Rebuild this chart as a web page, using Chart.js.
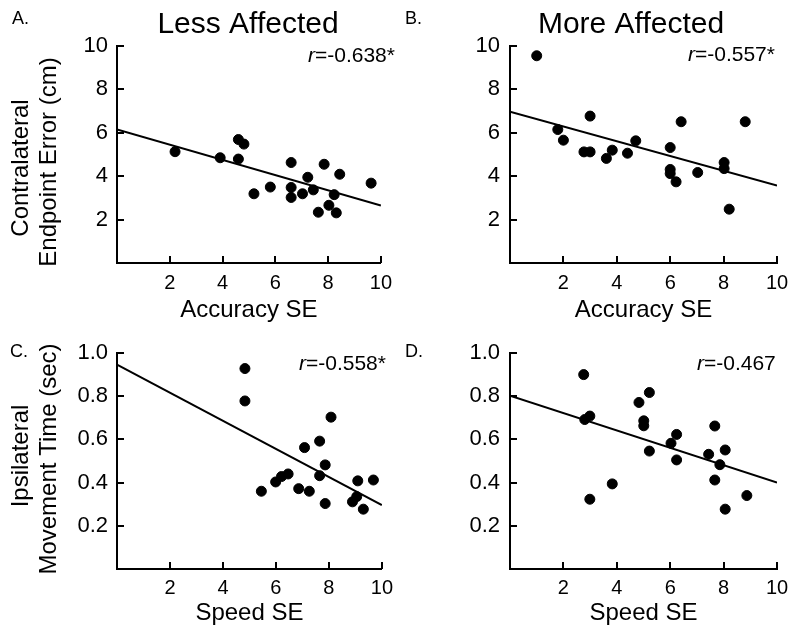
<!DOCTYPE html>
<html>
<head>
<meta charset="utf-8">
<script src="https://cdn.jsdelivr.net/npm/chart.js@4.4.1/dist/chart.umd.min.js"></script>
<style>
  body { margin: 0; background: #fff; }
  #wrap { position: relative; width: 800px; height: 639px; overflow: hidden; }
  #wrap canvas { position: absolute; }
</style>
</head>
<body>
<div id="wrap">
  <canvas id="panelA" width="400" height="325" style="left:0;top:0"></canvas>
  <canvas id="panelB" width="400" height="325" style="left:400px;top:0"></canvas>
  <canvas id="panelC" width="400" height="314" style="left:0;top:325px"></canvas>
  <canvas id="panelD" width="400" height="314" style="left:400px;top:325px"></canvas>
</div>
<script>
// x values used for the regression lines
const fitX = [0, 10];

// A. less affected, accuracy
const lessAccX = [2.2, 3.91, 4.6, 4.81, 4.6, 5.19, 5.81, 6.6, 6.6, 6.6, 7.03, 7.23, 7.44, 7.63, 7.85, 8.03, 8.23, 8.31, 8.44, 9.63];
const lessAccY = [5.13, 4.85, 5.69, 5.48, 4.79, 3.19, 3.5, 4.63, 3.48, 3.02, 3.19, 3.95, 3.37, 2.34, 4.55, 2.66, 3.15, 2.31, 4.09, 3.68];
const lessAccFit = [6.15, 2.65];

// B. more affected, accuracy
const moreAccX = [1.0, 1.79, 2.0, 2.77, 3.0, 3.0, 3.61, 3.83, 4.4, 4.71, 6.0, 6.0, 6.0, 6.22, 6.41, 7.03, 8.02, 8.02, 8.21, 8.81];
const moreAccY = [9.55, 6.15, 5.66, 5.12, 5.12, 6.77, 4.82, 5.2, 5.06, 5.63, 5.32, 4.31, 4.12, 3.74, 6.51, 4.17, 4.63, 4.35, 2.48, 6.51];
const moreAccFit = [6.97, 3.57];

// C. less affected, speed
const lessSpdX = [4.83, 4.83, 5.45, 5.99, 6.21, 6.46, 6.86, 7.08, 7.26, 7.65, 7.65, 7.86, 7.86, 8.08, 8.89, 9.05, 9.09, 9.3, 9.68];
const lessSpdY = [0.928, 0.778, 0.36, 0.403, 0.428, 0.44, 0.372, 0.562, 0.36, 0.592, 0.432, 0.482, 0.303, 0.703, 0.311, 0.335, 0.408, 0.277, 0.412];
const lessSpdFit = [0.946, 0.296];

// D. more affected, speed
const moreSpdX = [2.76, 2.8, 2.99, 2.99, 3.83, 4.83, 5.22, 5.01, 5.01, 5.22, 6.03, 6.24, 6.24, 7.44, 7.67, 7.67, 7.86, 8.06, 8.06, 8.87];
const moreSpdY = [0.9, 0.692, 0.708, 0.323, 0.394, 0.771, 0.817, 0.686, 0.663, 0.546, 0.582, 0.623, 0.505, 0.531, 0.662, 0.412, 0.483, 0.551, 0.277, 0.34];
const moreSpdFit = [0.802, 0.40];

const FONT = "'Liberation Sans', Arial, sans-serif";

const zip = (xs, ys) => xs.map((x, i) => ({ x, y: ys[i] }));

// tick marks pointing into the plot, like the original figure
const innerTicks = {
    id: 'innerTicks',
    afterDraw(chart) {
        const { ctx, chartArea } = chart;
        const x = chart.scales.x, y = chart.scales.y;
        ctx.save();
        ctx.strokeStyle = '#000';
        ctx.lineWidth = 2;
        ctx.beginPath();
        x.ticks.forEach(t => {
            if (t.value === 0) return;
            const px = Math.round(x.getPixelForValue(t.value));
            ctx.moveTo(px, chartArea.bottom);
            ctx.lineTo(px, chartArea.bottom - 7);
        });
        y.ticks.forEach(t => {
            if (t.value === 0) return;
            const py = Math.round(y.getPixelForValue(t.value));
            ctx.moveTo(chartArea.left, py);
            ctx.lineTo(chartArea.left + 7, py);
        });
        ctx.stroke();
        ctx.restore();
    }
};

// panel letter, heading, r value and the two-line y title
const panelText = {
    id: 'panelText',
    afterDraw(chart, args, o) {
        const ctx = chart.ctx;
        ctx.save();
        ctx.fillStyle = '#000';
        ctx.textBaseline = 'middle';
        ctx.textAlign = 'left';
        ctx.font = `18px ${FONT}`;
        ctx.fillText(o.letter[0], o.letter[1], o.letter[2]);

        if (o.heading) {
            ctx.textAlign = 'center';
            ctx.font = `30px ${FONT}`;
            ctx.fillText(o.heading[0], o.heading[1], o.heading[2]);
        }

        ctx.textAlign = 'left';
        ctx.font = `italic 21px ${FONT}`;
        ctx.fillText('r', o.r[1], o.r[2]);
        const w = ctx.measureText('r').width;
        ctx.font = `21px ${FONT}`;
        ctx.fillText(o.r[0], o.r[1] + w, o.r[2]);

        if (o.yTitle) {
            ctx.font = `24px ${FONT}`;
            ctx.textAlign = 'center';
            o.yTitle.forEach(([text, tx, ty]) => {
                ctx.save();
                ctx.translate(tx, ty);
                ctx.rotate(-Math.PI / 2);
                ctx.fillText(text, 0, 0);
                ctx.restore();
            });
        }
        ctx.restore();
    }
};

function makePanel(id, p) {
    return new Chart(document.getElementById(id), {
        type: 'scatter',
        data: {
            datasets: [{
                data: zip(p.xs, p.ys),
                backgroundColor: '#000',
                borderColor: '#000',
                pointRadius: 5,
                pointHoverRadius: 5
            }, {
                data: zip(fitX, p.fit),
                showLine: true,
                borderColor: '#000',
                borderWidth: 2,
                pointRadius: 0,
                fill: false
            }]
        },
        options: {
            responsive: false,
            animation: false,
            events: [],
            layout: { padding: { top: p.padTop, right: p.padRight, bottom: 0, left: 0 } },
            plugins: {
                legend: { display: false },
                tooltip: { enabled: false },
                panelText: p.text
            },
            scales: {
                x: {
                    type: 'linear',
                    min: 0,
                    max: 10,
                    afterFit: s => { s.height = p.xHeight; },
                    grid: { display: false, drawTicks: false },
                    border: { display: true, color: '#000', width: 2 },
                    ticks: {
                        stepSize: 2,
                        padding: p.xTickPad,
                        color: '#000',
                        font: { family: FONT, size: 20 },
                        maxRotation: 0,
                        callback: v => v === 0 ? '' : String(v)
                    },
                    title: {
                        display: true,
                        text: p.xTitle,
                        color: '#000',
                        font: { family: FONT, size: 24 },
                        padding: { top: 0, bottom: p.xTitlePad }
                    }
                },
                y: {
                    min: 0,
                    max: p.yMax,
                    afterFit: s => { s.width = p.yWidth; },
                    grid: { display: false, drawTicks: false },
                    border: { display: true, color: '#000', width: 2 },
                    ticks: {
                        stepSize: p.yMax / 5,
                        padding: p.yTickPad,
                        color: '#000',
                        font: { family: FONT, size: 22 },
                        callback: v => v === 0 ? '' : (p.yMax === 1 ? v.toFixed(1) : String(Math.round(v)))
                    }
                }
            }
        },
        plugins: [innerTicks, panelText]
    });
}

makePanel('panelA', {
    xs: lessAccX, ys: lessAccY, fit: lessAccFit, yMax: 10,
    padTop: 46, padRight: 16, yWidth: 117, xHeight: 62,
    xTickPad: 8, xTitlePad: 0, yTickPad: 9, xTitle: 'Accuracy SE',
    text: {
        letter: ['A.', 12, 19],
        heading: ['Less Affected', 248, 25],
        r: ['=-0.638*', 308, 56],
        yTitle: [['Contralateral', 21, 168], ['Endpoint Error (cm)', 49, 162]]
    }
});

makePanel('panelB', {
    xs: moreAccX, ys: moreAccY, fit: moreAccFit, yMax: 10,
    padTop: 46, padRight: 23, yWidth: 110, xHeight: 62,
    xTickPad: 8, xTitlePad: 0, yTickPad: 10, xTitle: 'Accuracy SE',
    text: {
        letter: ['B.', 5, 19],
        heading: ['More Affected', 231, 25],
        r: ['=-0.557*', 288, 55]
    }
});

makePanel('panelC', {
    xs: lessSpdX, ys: lessSpdY, fit: lessSpdFit, yMax: 1,
    padTop: 28, padRight: 16, yWidth: 117, xHeight: 70,
    xTickPad: 7, xTitlePad: 11, yTickPad: 9, xTitle: 'Speed SE',
    text: {
        letter: ['C.', 10, 27],
        r: ['=-0.558*', 299, 39],
        yTitle: [['Ipsilateral', 21, 131], ['Movement Time (sec)', 49, 134]]
    }
});

makePanel('panelD', {
    xs: moreSpdX, ys: moreSpdY, fit: moreSpdFit, yMax: 1,
    padTop: 28, padRight: 23, yWidth: 110, xHeight: 70,
    xTickPad: 7, xTitlePad: 11, yTickPad: 10, xTitle: 'Speed SE',
    text: {
        letter: ['D.', 5, 27],
        r: ['=-0.467', 297, 39]
    }
});
</script>
</body>
</html>
